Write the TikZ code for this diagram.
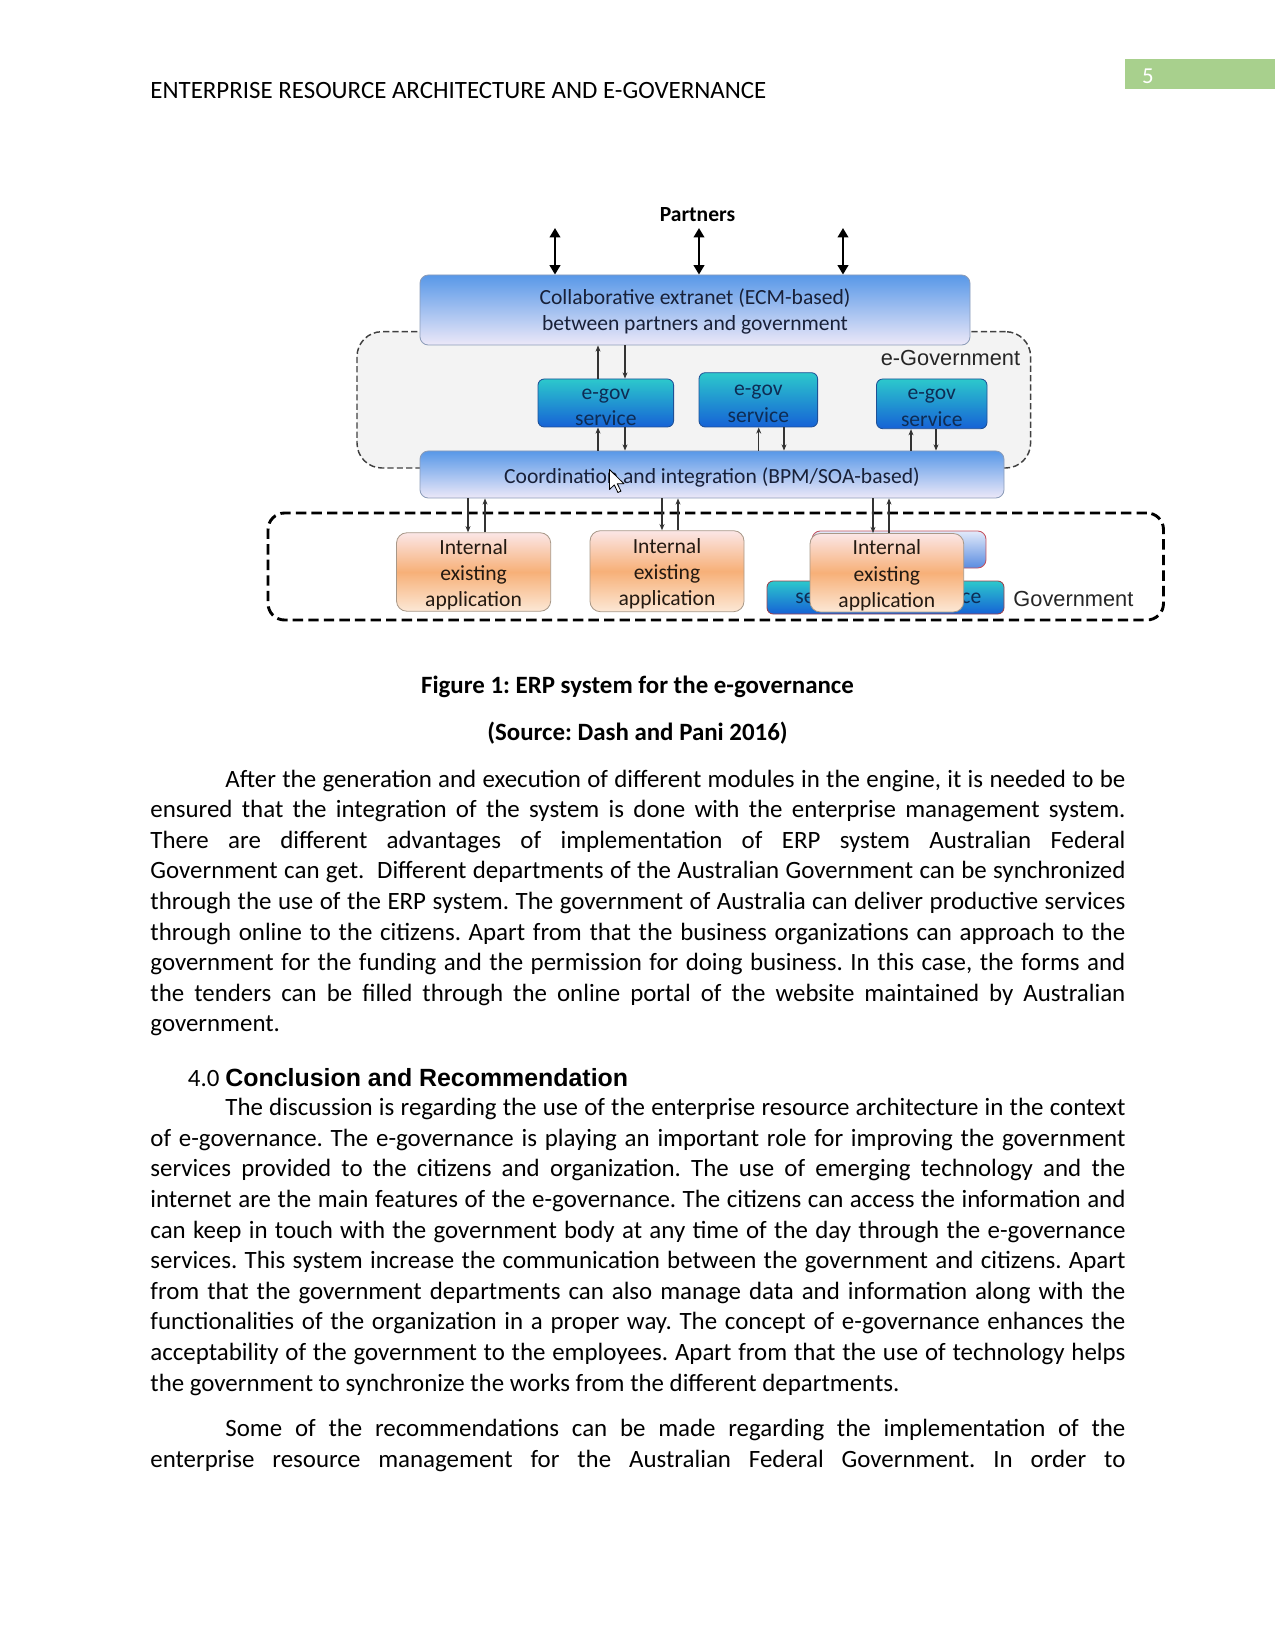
\documentclass[tikz,border=0pt]{standalone}
\usepackage{fontspec}
\setmainfont{Carlito}
\newfontfamily\arialfont{Liberation Sans}
\usetikzlibrary{arrows.meta}

\def\pxu{0.4818pt}
\frenchspacing
% invisible rules that set where the lines sit in a box
\newcommand{\upgap}[1]{\rule{0pt}{#1}}
\newcommand{\downgap}[1]{\rule[-#1]{0pt}{#1}}

\definecolor{tabgreen}{RGB}{168,208,141}
\definecolor{extblue}{RGB}{88,152,232}
\definecolor{extpale}{RGB}{236,232,248}
\definecolor{extline}{RGB}{140,156,184}
\definecolor{svctop}{RGB}{44,200,204}
\definecolor{svcbot}{RGB}{22,98,214}
\definecolor{svcline}{RGB}{30,80,150}
\definecolor{svctext}{RGB}{14,44,84}
\definecolor{apptop}{RGB}{251,230,230}
\definecolor{appmid}{RGB}{247,176,120}
\definecolor{appbot}{RGB}{252,232,214}
\definecolor{appline}{RGB}{168,152,136}
\definecolor{apptext}{RGB}{36,26,18}
\definecolor{zonegray}{RGB}{243,243,243}
\definecolor{boxtext}{RGB}{24,32,56}
\definecolor{redline}{RGB}{196,80,92}
\definecolor{paleblue}{RGB}{226,234,250}
\definecolor{midblue}{RGB}{90,140,224}

\tikzset{
  dia/.style={font=\fontsize{10.4}{12.6}\selectfont, align=center, inner sep=0pt},
  extbox/.style={dia, draw=extline, rounded corners=4pt, top color=extblue, bottom color=extpale, text=boxtext},
  svcbox/.style={dia, draw=svcline, rounded corners=3pt, top color=svctop, bottom color=svcbot, text=svctext},
  appbox/.style={dia, draw=appline, rounded corners=5pt, top color=apptop, bottom color=appbot, middle color=appmid, text=apptext},
  egovzone/.style={draw=black!75, dashed, dash pattern=on 3pt off 1.5pt, line width=0.7pt, fill=zonegray, rounded corners=12pt, inner sep=0pt},
  govzone/.style={draw=black, line width=1.4pt, dash pattern=on 5pt off 2.5pt, rounded corners=8pt, inner sep=0pt},
  zonelabel/.style={font=\arialfont\fontsize{10.5}{12}\selectfont, text=black!85, inner sep=0pt},
  bigarrow/.style={{Triangle[length=4.5pt,width=5pt]}-{Triangle[length=4.5pt,width=5pt]}, line width=1.1pt},
  thinarrow/.style={-{Stealth[length=3pt,width=2.4pt]}, line width=0.5pt, black!80},
  plain/.style={inner sep=0pt, font=\fontsize{12}{14.74}\selectfont},
  body/.style={plain, anchor=north west, text width=469.76pt, align=justify}
}

\begin{document}
\begin{tikzpicture}[x=\pxu, y=-\pxu]
\useasboundingbox (0,0) rectangle (1275,1650);

% running head
\fill[tabgreen] (1125,59.3) rectangle (1275,89.3);
\node[plain, font=\fontsize{11}{13}\selectfont, text=white, anchor=base west] (pgno) at (1141.7,83.3) {5};
\node[plain, anchor=base west] (runhead) at (150,98.3) {ENTERPRISE RESOURCE ARCHITECTURE AND E-GOVERNANCE};

% figure
\node[egovzone, minimum width=673.6*\pxu, minimum height=136.3*\pxu] (egov) at (693.8,399.85) {};
\node[govzone, minimum width=895.5*\pxu, minimum height=107*\pxu] (gov) at (715.75,566.5) {};
\node[zonelabel, anchor=base east] (egovlbl) at (1020.5,366) {e-Government};
\node[zonelabel, anchor=base west] (govlbl) at (1013,606) {Government};

\node[dia, font=\bfseries\fontsize{10.4}{12.6}\selectfont, anchor=base] (partners) at (697.5,222) {Partners};
\node[extbox, minimum width=550*\pxu, minimum height=70*\pxu] (ext) at (695,310) {\upgap{9.8pt}Collaborative extranet (ECM-based)\\between partners and government\downgap{2.8pt}};
\node[svcbox, minimum width=135.6*\pxu, minimum height=48*\pxu] (svcA) at (605.8,403) {\upgap{9.65pt}e-gov\\service\downgap{0.85pt}};
\node[svcbox, minimum width=118.6*\pxu, minimum height=54.3*\pxu] (svcB) at (758.3,399.85) {\upgap{9.65pt}e-gov\\service\downgap{0.85pt}};
\node[svcbox, minimum width=110.5*\pxu, minimum height=49.7*\pxu] (svcC) at (931.75,403.85) {\upgap{9.65pt}e-gov\\service\downgap{0.85pt}};
\node[extbox, minimum width=584*\pxu, minimum height=47*\pxu] (coord) at (712,474.5) {\rule[-1.8pt]{0pt}{12.6pt}Coordination and integration (BPM/SOA-based)};

\node[dia, draw=redline, rounded corners=4pt, top color=paleblue, bottom color=midblue, minimum width=174*\pxu, minimum height=37*\pxu] (hidden) at (899,549.5) {};
\node[svcbox, draw=redline!80!black, minimum width=237*\pxu, minimum height=33*\pxu] (wide) at (885.5,597.5) {};
\node[dia, text=svctext, anchor=base west] (wideL) at (795,603) {se};
\node[dia, text=svctext, anchor=base east] (wideR) at (981.7,603) {ce};

\node[appbox, minimum width=154.2*\pxu, minimum height=78*\pxu] (appA) at (473.6,572) {\upgap{10.3pt}Internal\\existing\\application\downgap{2.3pt}};
\node[appbox, minimum width=154*\pxu, minimum height=81*\pxu] (appB) at (667,571.2) {\upgap{10.3pt}Internal\\existing\\application\downgap{2.3pt}};
\node[appbox, minimum width=153.7*\pxu, minimum height=78.5*\pxu] (appC) at (886.85,572.75) {\upgap{10.3pt}Internal\\existing\\application\downgap{2.3pt}};

\coordinate (ptop) at (0,228);
\foreach \x in {555,699,843} {
  \coordinate (t) at (\x,0);
  \draw[bigarrow] (ext.north -| t) -- (ptop -| t);
}
\foreach \x/\s in {598/svcA,758.7/svcB,911/svcC} {
  \coordinate (t) at (\x,0);
  \draw[thinarrow] (coord.north -| t) -- (\s.south -| t);
}
\foreach \x/\s in {625/svcA,784/svcB,936/svcC} {
  \coordinate (t) at (\x,0);
  \draw[thinarrow] (\s.south -| t) -- (coord.north -| t);
}
\coordinate (t) at (598,0);
\draw[thinarrow] (svcA.north -| t) -- (ext.south -| t);
\coordinate (t) at (625,0);
\draw[thinarrow] (ext.south -| t) -- (svcA.north -| t);
\foreach \x/\y/\a in {468/485/appA,662/678/appB,873/889/appC} {
  \coordinate (t) at (\x,0);
  \coordinate (u) at (\y,0);
  \draw[thinarrow] (coord.south -| t) -- (\a.north -| t);
  \draw[thinarrow] (\a.north -| u) -- (coord.south -| u);
}

% mouse pointer over the coordination box
\draw[fill=white, line width=0.4pt, line join=round] (609.5,469.5) -- ++(0,20) -- ++(4.8,-4.6) -- ++(3.6,7.6) -- ++(3,-1.4) -- ++(-3.6,-7.4) -- ++(6.6,0) -- cycle;

% caption
\node[plain, font=\bfseries\fontsize{12}{14.74}\selectfont, anchor=base] (figcap) at (637.5,693.3) {Figure 1: ERP system for the e-governance};
\node[plain, font=\bfseries\fontsize{12}{14.74}\selectfont, anchor=base] (figsrc) at (637.5,740.5) {(Source: Dash and Pani 2016)};

% text
\node[body] (para1) at (150,765.3) {\tolerance=10000\hbadness=10000\noindent\hspace*{36.14pt}\strut After the generation and execution of different modules in the engine, it is needed to be\linebreak
ensured that the integration of the system is done with the enterprise management system.\linebreak
There are different advantages of implementation of ERP system Australian Federal\linebreak
Government can get.\ \ Different departments of the Australian Government can be synchronized\linebreak
through the use of the ERP system. The government of Australia can deliver productive services\linebreak
through online to the citizens. Apart from that the business organizations can approach to the\linebreak
government for the funding and the permission for doing business. In this case, the forms and\linebreak
the tenders can be filled through the online portal of the website maintained by Australian\linebreak
government.};

\node[plain, anchor=base west] (secnum) at (187.5,1086) {4.0};
\node[plain, font=\arialfont\bfseries\fontsize{12}{14}\selectfont, anchor=base west] (sectitle) at (225,1086) {Conclusion and Recommendation};

\node[body] (para2) at (150,1093.9) {\tolerance=10000\hbadness=10000\noindent\hspace*{36.14pt}\strut The discussion is regarding the use of the enterprise resource architecture in the context\linebreak
of e-governance. The e-governance is playing an important role for improving the government\linebreak
services provided to the citizens and organization. The use of emerging technology and the\linebreak
internet are the main features of the e-governance. The citizens can access the information and\linebreak
can keep in touch with the government body at any time of the day through the e-governance\linebreak
services. This system increase the communication between the government and citizens. Apart\linebreak
from that the government departments can also manage data and information along with the\linebreak
functionalities of the organization in a proper way. The concept of e-governance enhances the\linebreak
acceptability of the government to the employees. Apart from that the use of technology helps\linebreak
the government to synchronize the works from the different departments.};

\node[body] (para3) at (150,1414.6) {\tolerance=10000\hbadness=10000\noindent\hspace*{36.14pt}\strut Some of the recommendations can be made regarding the implementation of the\linebreak
enterprise resource management for the Australian Federal Government. In order to\linebreak};
\end{tikzpicture}
\end{document}
